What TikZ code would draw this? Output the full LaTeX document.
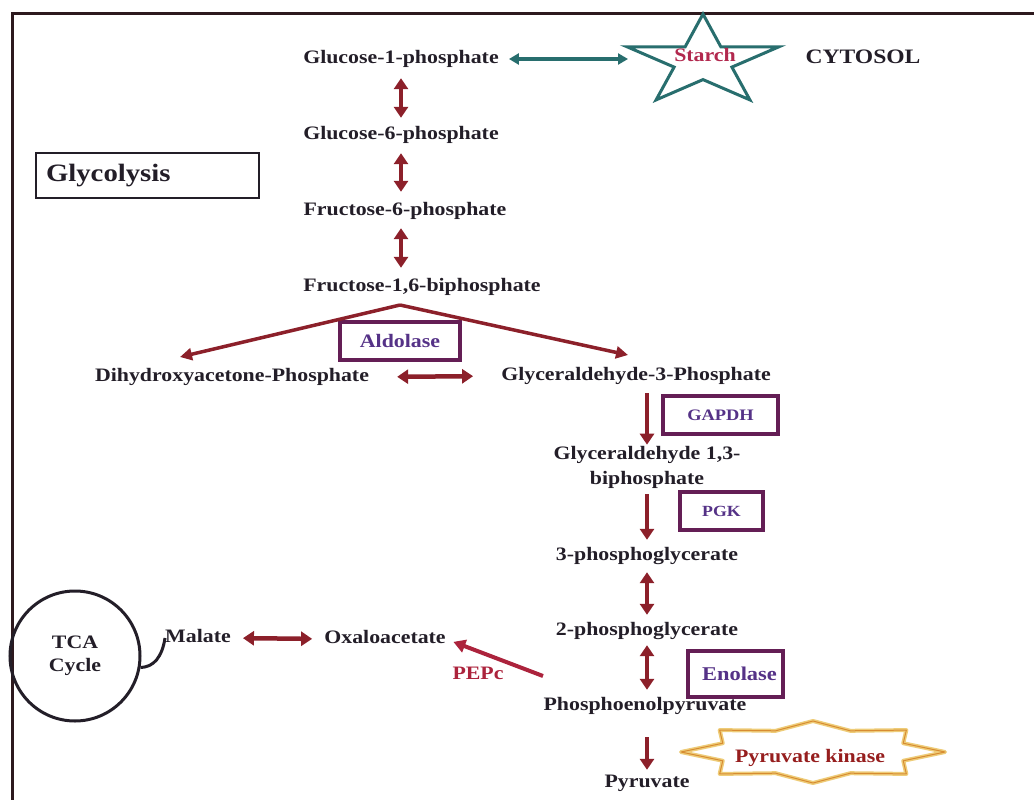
\documentclass[tikz,border=0pt]{standalone}
\usepackage{fontspec}
\setmainfont{Liberation Serif}[FakeStretch=1.15]
\usetikzlibrary{arrows.meta,calc}
\definecolor{txt}{RGB}{35,30,40}
\definecolor{arrred}{RGB}{140,32,42}
\definecolor{tealc}{RGB}{40,110,110}
\definecolor{enzb}{RGB}{100,30,85}
\definecolor{enzt}{RGB}{85,50,135}
\definecolor{crim}{RGB}{178,40,78}
\definecolor{pepcc}{RGB}{172,35,60}
\definecolor{pkt}{RGB}{150,30,30}
\definecolor{gold}{RGB}{238,204,120}
\definecolor{orng}{RGB}{215,140,50}
\definecolor{frame}{RGB}{45,25,30}
\begin{document}
\begin{tikzpicture}[x=1pt,y=-1pt,
  lbl/.style={font=\bfseries\fontsize{19}{23}\selectfont, text=txt, inner sep=0pt, text height=13pt, text depth=4pt},
  lbltwo/.style={font=\bfseries\fontsize{19}{25}\selectfont, text=txt, inner sep=0pt, align=center},
  dbl/.style={draw=arrred, line width=4.5pt, {Triangle[width=14pt,length=11pt]}-{Triangle[width=14pt,length=11pt]}},
  one/.style={draw=arrred, line width=4.5pt, -{Triangle[width=14pt,length=11pt]}},
  thinarr/.style={draw=arrred, line width=3.5pt, -{Triangle[width=12pt,length=12pt]}},
  tealarr/.style={draw=tealc, line width=3.5pt, {Triangle[width=11pt,length=10pt]}-{Triangle[width=11pt,length=10pt]}},
  pepcarr/.style={draw=pepcc, line width=4pt, -{Triangle[width=13pt,length=12pt]}},
  enz/.style={draw=enzb, line width=3.5pt, text=enzt, inner sep=0pt, minimum height=38pt},
  tcanode/.style={circle, draw=txt, line width=3pt, minimum size=130pt, inner sep=0pt, align=center, text=txt, font=\bfseries\fontsize{19}{23}\selectfont},
  glycbox/.style={draw=txt, line width=2.5pt, text width=203pt, inner xsep=10pt, inner ysep=0pt, minimum height=45pt, align=left, text=txt, font=\bfseries\fontsize{25}{28}\selectfont}
]
\useasboundingbox (0,0) rectangle (1034,800);
\fill[white] (0,0) rectangle (1034,800);
% frame
\draw[frame, line width=3pt] (12,800) -- (12,14) -- (1034,14);

% metabolites
\node[lbl] (g1p) at (401,59) {Glucose-1-phosphate};
\node[lbl] (g6p) at (401,135) {Glucose-6-phosphate};
\node[lbl] (f6p) at (405,211) {Fructose-6-phosphate};
\node[lbl] (fbp) at (422,287) {Fructose-1,6-biphosphate};
\node[lbl] (dhap) at (232,377) {Dihydroxyacetone-Phosphate};
\node[lbl] (g3p) at (636,376) {Glyceraldehyde-3-Phosphate};
\node[lbltwo] (bpg) at (647,467) {Glyceraldehyde 1,3-\\biphosphate};
\node[lbl] (pg3) at (647,556) {3-phosphoglycerate};
\node[lbl] (pg2) at (647,631) {2-phosphoglycerate};
\node[lbl] (pep) at (645,706) {Phosphoenolpyruvate};
\node[lbl] (pyr) at (647,783) {Pyruvate};
\node[lbl] (oaa) at (385,639) {Oxaloacetate};
\node[lbl] (mal) at (198,638) {Malate};
\node[lbl, font=\bfseries\fontsize{20.5}{23}\selectfont] (cyt) at (863,59) {CYTOSOL};
\node[tcanode] (tca) at (75,656) {TCA\\Cycle};
\node[glycbox] (glyc) at (147.5,175.5) {Glycolysis};

% starch star
\draw[tealc, line width=3pt, line join=miter] (703,14) -- (685.1,46.9) -- (627.1,46.8) -- (674.1,67.1) -- (656.1,99.9) -- (703,79.6) -- (749.9,99.9) -- (731.9,67.1) -- (778.9,46.8) -- (720.9,46.9) -- cycle;
\node[lbl, text=crim] (starch) at (705,57) {Starch};
\coordinate (starL) at (628,59);

% enzymes
\node[enz, minimum width=120pt, font=\bfseries\fontsize{19}{23}\selectfont] (ald) at (400,341) {Aldolase};
\node[enz, minimum width=115pt, font=\bfseries\fontsize{16}{20}\selectfont] (gapdh) at (720.5,415) {GAPDH};
\node[enz, minimum width=83pt, font=\bfseries\fontsize{15.5}{20}\selectfont] (pgk) at (721.5,511) {PGK};
\node[enz, line width=4pt, minimum width=95pt, minimum height=46pt, font=\bfseries\fontsize{19.5}{23}\selectfont] (eno) at (735.5,674) {\hspace*{8pt}Enolase};
\node[lbl, text=pepcc] (pepc) at (478,675) {PEPc};

% pyruvate kinase burst
\draw[gold, line width=4pt, line join=round] (945,752) \foreach \k in {1,...,15}{ -- ({813+132*(mod(\k,2)==0?1:0.74)*cos(\k*22.5)}, {752-31*(mod(\k,2)==0?1:0.74)*sin(\k*22.5)}) } -- cycle;
\draw[orng, line width=1pt, line join=round] (945,752) \foreach \k in {1,...,15}{ -- ({813+132*(mod(\k,2)==0?1:0.74)*cos(\k*22.5)}, {752-31*(mod(\k,2)==0?1:0.74)*sin(\k*22.5)}) } -- cycle;
\node[lbl, text=pkt] (pk) at (810,758) {Pyruvate kinase};

% connectors
\draw[tealarr, shorten <=10pt] (g1p.east) -- (starL);
\draw[dbl, shorten <=10.5pt, shorten >=8.5pt] (g1p.south) -- (g6p.north);
\draw[dbl, shorten <=9.5pt, shorten >=10.5pt] (g6p.south) -- (f6p.north -| g6p);
\draw[dbl, shorten <=8.5pt, shorten >=10.5pt] (f6p.south -| g6p) -- (fbp.north -| g6p);

\coordinate (apex) at (400,305);
\coordinate (aldL) at (180,357);
\coordinate (aldR) at (628,355);
\draw[thinarr, line join=miter] (apex) -- (aldL);
\draw[thinarr, line join=miter] (apex) -- (aldR);

\draw[dbl, shorten <=28pt, shorten >=28pt] (dhap.east) -- (g3p.west);
\draw[one, shorten <=8.5pt, shorten >=1pt] (g3p.south -| pg3) -- (bpg.north -| pg3);
\draw[one, shorten <=6pt, shorten >=7.5pt] (bpg.south -| pg3) -- (pg3.north);
\draw[dbl, shorten <=7.5pt, shorten >=7.5pt] (pg3.south) -- (pg2.north);
\draw[dbl, shorten <=5.5pt, shorten >=7.5pt] (pg2.south) -- (pep.north -| pg2);
\draw[one, shorten <=22.5pt, shorten >=4.5pt] (pep.south -| pg2) -- (pyr.north);

\draw[dbl, shorten <=12pt, shorten >=12pt] (mal.east) -- (oaa.west);
\coordinate (pepcS) at (543,676);
\draw[pepcarr, shorten >=8pt] (pepcS) -- (oaa.east);
\draw[txt, line width=3pt] (tca.-10) .. controls (154,667) and (162,657) .. (mal.west);
\end{tikzpicture}
\end{document}
